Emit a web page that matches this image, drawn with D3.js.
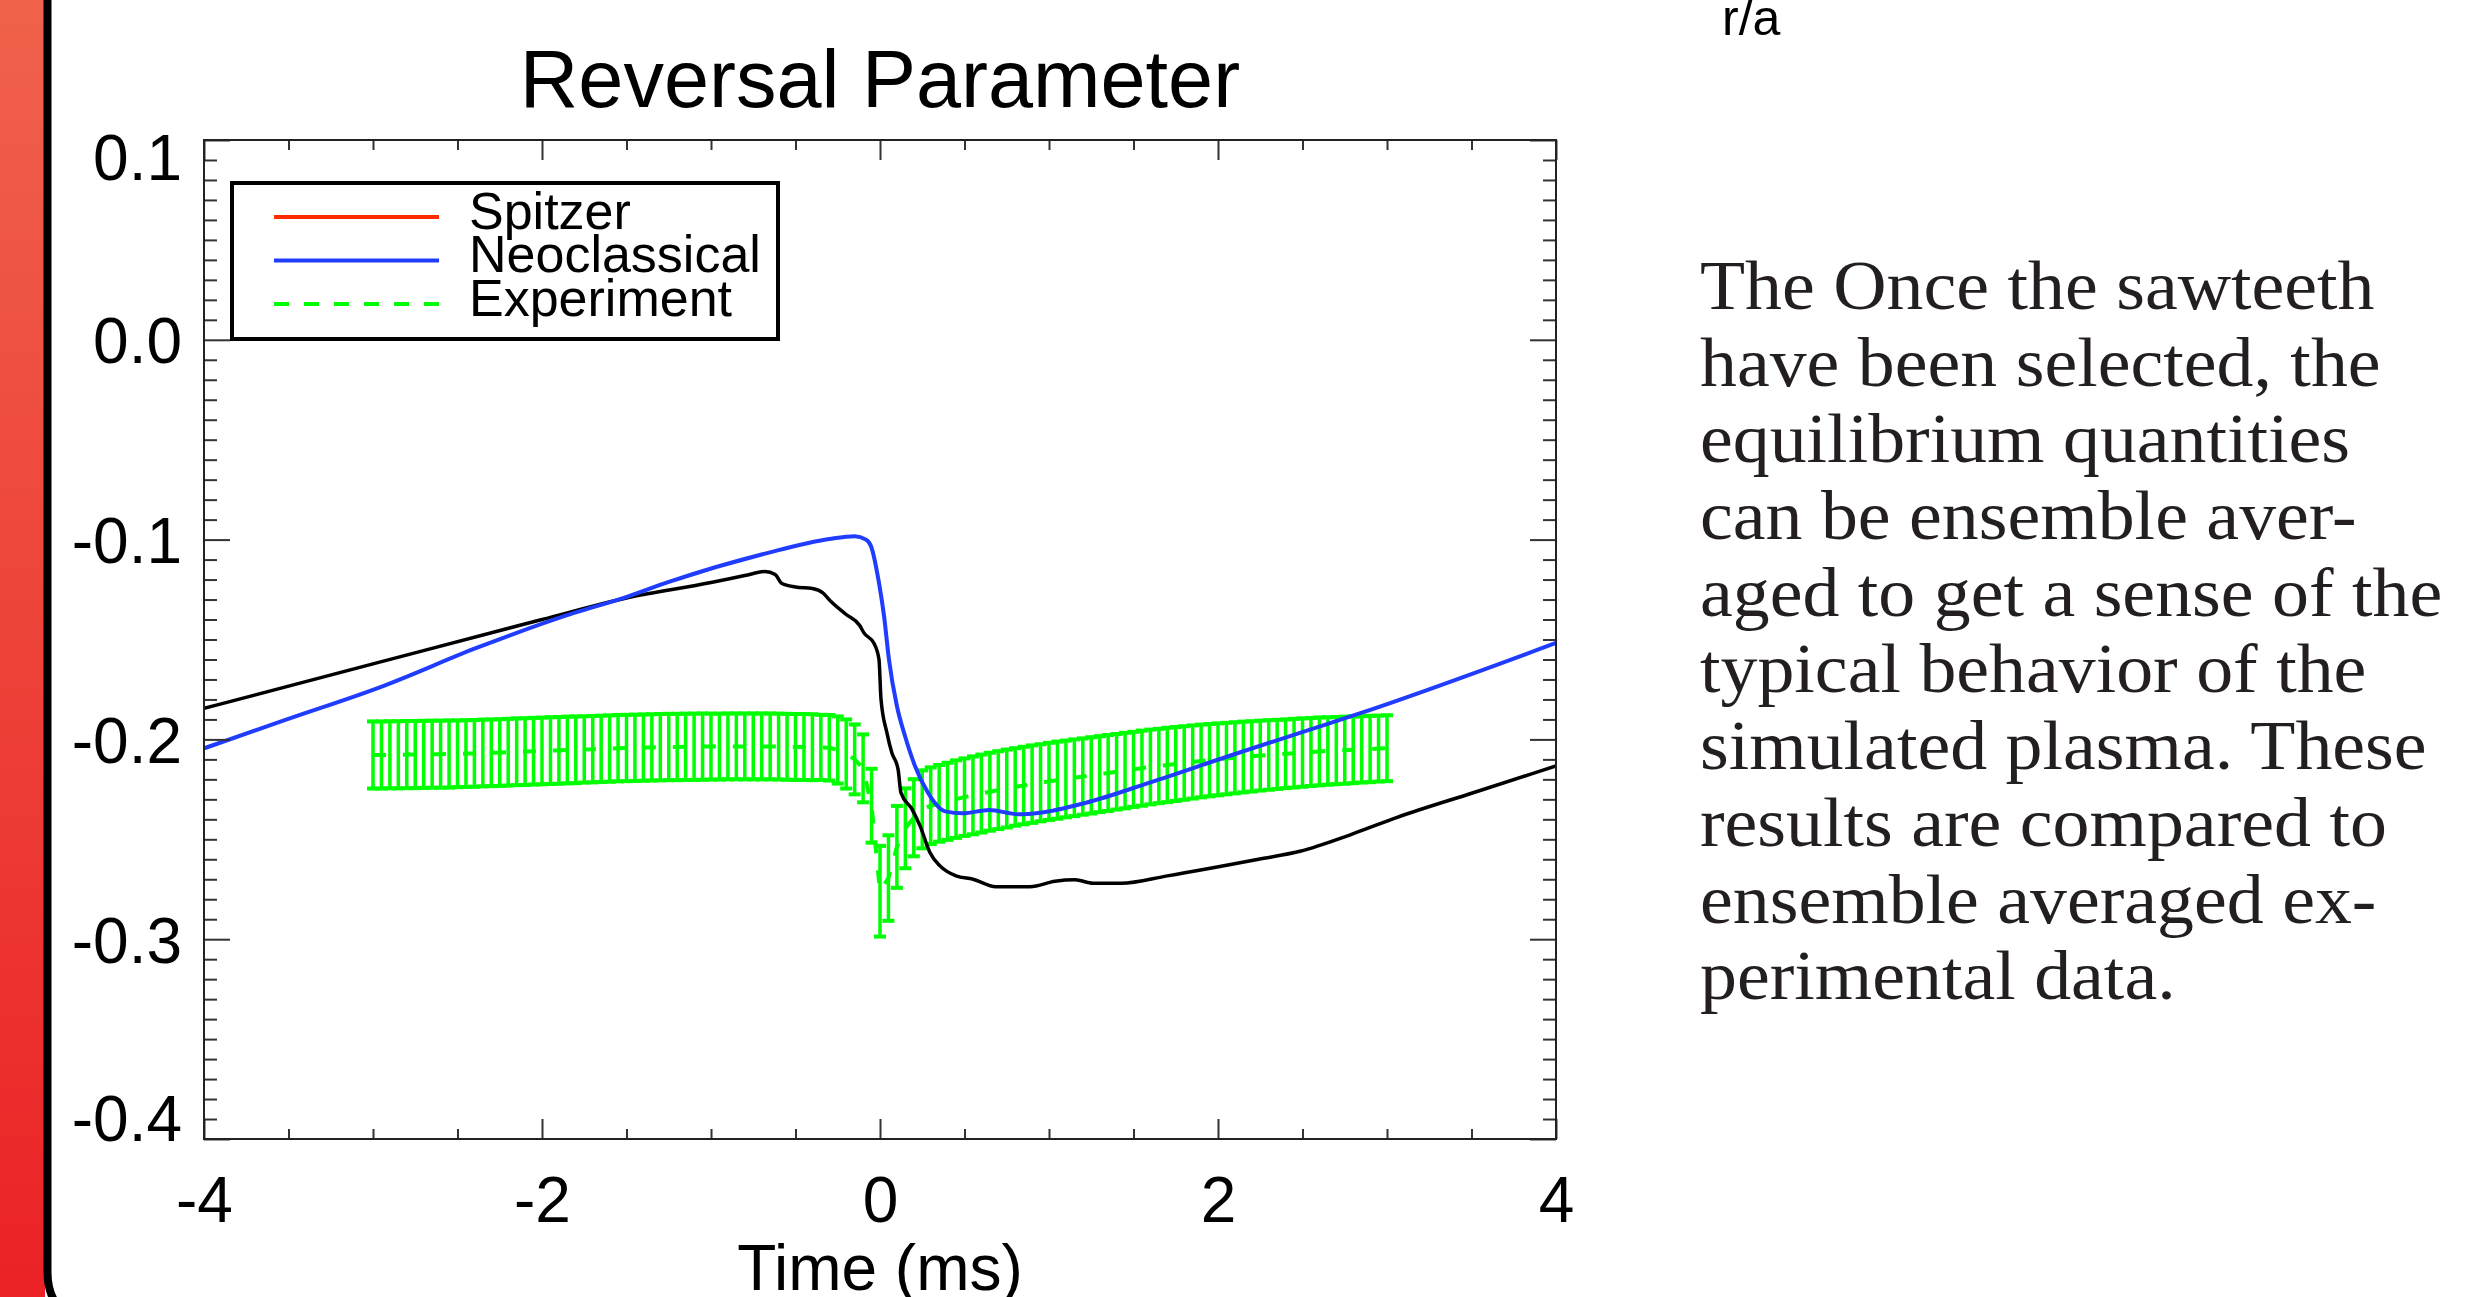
<!DOCTYPE html>
<html>
<head>
<meta charset="utf-8">
<script src="https://cdn.jsdelivr.net/npm/d3@7"></script>
<style>
  body { margin: 0; background: #fff; }
  svg { display: block; }
</style>
</head>
<body>
<div id="chart"></div>
<script>
// ---- data ----
const timeDomain = [-4, 4];
const valueDomain = [-0.4, 0.1];
const xMajorTicks = [-4, -2, 0, 2, 4];
const xMinorTicks = [-3.5, -3, -2.5, -1.5, -1, -0.5, 0.5, 1, 1.5, 2.5, 3, 3.5];
const yMajorTicks = [0.1, 0.0, -0.1, -0.2, -0.3, -0.4];
const legendLabels = ["Spitzer", "Neoclassical", "Experiment"];
const legendColors = ["#ff2a00", "#1f3cff", "#00ff00"];

// black curve (Spitzer run)
const spitzerT = [-4.00, -3.00, -2.00, -1.50, -1.00, -0.80, -0.68, -0.62, -0.58, -0.50, -0.40, -0.34, -0.29, -0.20, -0.12,
  -0.095, -0.035, -0.006, 0.006, 0.041, 0.07, 0.107, 0.124, 0.19, 0.237, 0.296, 0.355, 0.45, 0.55, 0.686, 0.888,
  1.036, 1.154, 1.26, 1.426, 1.70, 2.24, 2.485, 2.79, 3.06, 3.51, 4.00];
const spitzerV = [-0.1845, -0.1622, -0.1400, -0.1292, -0.1215, -0.1180, -0.1160, -0.1175, -0.1220, -0.1237, -0.1245, -0.1265, -0.1310, -0.1375, -0.1430,
  -0.1467, -0.1520, -0.1600, -0.1800, -0.1967, -0.2067, -0.2150, -0.2267, -0.2350, -0.2433, -0.2567, -0.2633, -0.2683, -0.2700, -0.2737, -0.2737,
  -0.2710, -0.2703, -0.2720, -0.2720, -0.2683, -0.2600, -0.2560, -0.2475, -0.2390, -0.2267, -0.2133];

// blue curve (Neoclassical run)
const neoT = [-4.00, -3.51, -2.94, -2.38, -1.81, -1.53, -1.245, -0.68, -0.30, -0.15, -0.083, -0.053, -0.006, 0.024, 0.053,
  0.10, 0.148, 0.207, 0.284, 0.385, 0.49, 0.645, 0.822, 0.947, 1.219, 1.60, 2.065, 2.485, 2.82, 4.00];
const neoV = [-0.2045, -0.1900, -0.1733, -0.1540, -0.1367, -0.1295, -0.1210, -0.1070, -0.0997, -0.0983, -0.1000, -0.1033, -0.1217, -0.1383, -0.1600,
  -0.1833, -0.1983, -0.2133, -0.2267, -0.2360, -0.2370, -0.2353, -0.2375, -0.2367, -0.2317, -0.2215, -0.2083, -0.1967, -0.1875, -0.1517];

// ensemble averaged experiment: time, mean, half error
const expT = [-3.00, -2.95, -2.90, -2.85, -2.80, -2.75, -2.70, -2.65, -2.60, -2.55,
  -2.50, -2.45, -2.40, -2.35, -2.30, -2.25, -2.20, -2.15, -2.10, -2.05,
  -2.00, -1.95, -1.90, -1.85, -1.80, -1.75, -1.70, -1.65, -1.60, -1.55,
  -1.50, -1.45, -1.40, -1.35, -1.30, -1.25, -1.20, -1.15, -1.10, -1.05,
  -1.00, -0.95, -0.90, -0.85, -0.80, -0.75, -0.70, -0.65, -0.60, -0.55,
  -0.50, -0.45, -0.40, -0.35, -0.30, -0.25, -0.20, -0.15, -0.10, -0.05,
  0.00, 0.05, 0.10, 0.15, 0.20, 0.25, 0.30, 0.35, 0.40, 0.45,
  0.50, 0.55, 0.60, 0.65, 0.70, 0.75, 0.80, 0.85, 0.90, 0.95,
  1.00, 1.05, 1.10, 1.15, 1.20, 1.25, 1.30, 1.35, 1.40, 1.45,
  1.50, 1.55, 1.60, 1.65, 1.70, 1.75, 1.80, 1.85, 1.90, 1.95,
  2.00, 2.05, 2.10, 2.15, 2.20, 2.25, 2.30, 2.35, 2.40, 2.45,
  2.50, 2.55, 2.60, 2.65, 2.70, 2.75, 2.80, 2.85, 2.90, 2.95,
  3.00];
const expMean = [-0.2078, -0.2078, -0.2077, -0.2077, -0.2076, -0.2076, -0.2075, -0.2074, -0.2074, -0.2073,
  -0.2072, -0.2071, -0.2070, -0.2068, -0.2067, -0.2066, -0.2064, -0.2062, -0.2061, -0.2059,
  -0.2058, -0.2056, -0.2055, -0.2053, -0.2052, -0.2050, -0.2049, -0.2047, -0.2046, -0.2044,
  -0.2043, -0.2042, -0.2041, -0.2040, -0.2039, -0.2038, -0.2038, -0.2037, -0.2037, -0.2036,
  -0.2036, -0.2036, -0.2035, -0.2035, -0.2035, -0.2035, -0.2035, -0.2035, -0.2036, -0.2037,
  -0.2038, -0.2038, -0.2039, -0.2040, -0.2042, -0.2053, -0.2073, -0.2100, -0.2145, -0.2332,
  -0.2760, -0.2694, -0.2538, -0.2445, -0.2392, -0.2350, -0.2332, -0.2320, -0.2310, -0.2299,
  -0.2289, -0.2280, -0.2271, -0.2262, -0.2254, -0.2246, -0.2238, -0.2231, -0.2224, -0.2217,
  -0.2210, -0.2204, -0.2198, -0.2192, -0.2186, -0.2180, -0.2174, -0.2168, -0.2162, -0.2156,
  -0.2150, -0.2144, -0.2138, -0.2133, -0.2128, -0.2123, -0.2118, -0.2113, -0.2108, -0.2104,
  -0.2100, -0.2096, -0.2092, -0.2088, -0.2085, -0.2081, -0.2078, -0.2075, -0.2072, -0.2069,
  -0.2066, -0.2063, -0.2060, -0.2058, -0.2056, -0.2054, -0.2052, -0.2050, -0.2048, -0.2046,
  -0.2044];
const expErr = [0.0168, 0.0168, 0.0168, 0.0168, 0.0168, 0.0168, 0.0168, 0.0168, 0.0168, 0.0168,
  0.0167, 0.0167, 0.0167, 0.0167, 0.0167, 0.0167, 0.0167, 0.0167, 0.0167, 0.0167,
  0.0167, 0.0167, 0.0167, 0.0167, 0.0167, 0.0166, 0.0166, 0.0166, 0.0166, 0.0166,
  0.0166, 0.0166, 0.0166, 0.0166, 0.0166, 0.0166, 0.0166, 0.0166, 0.0166, 0.0166,
  0.0165, 0.0165, 0.0165, 0.0165, 0.0165, 0.0165, 0.0165, 0.0165, 0.0165, 0.0165,
  0.0165, 0.0165, 0.0165, 0.0163, 0.0164, 0.0168, 0.0173, 0.0175, 0.0170, 0.0185,
  0.0227, 0.0214, 0.0205, 0.0200, 0.0193, 0.0195, 0.0192, 0.0192, 0.0193, 0.0194,
  0.0194, 0.0195, 0.0195, 0.0195, 0.0195, 0.0195, 0.0194, 0.0194, 0.0194, 0.0193,
  0.0193, 0.0193, 0.0192, 0.0192, 0.0191, 0.0191, 0.0190, 0.0190, 0.0189, 0.0189,
  0.0188, 0.0188, 0.0187, 0.0186, 0.0186, 0.0185, 0.0184, 0.0183, 0.0182, 0.0181,
  0.0180, 0.0179, 0.0178, 0.0177, 0.0176, 0.0175, 0.0174, 0.0173, 0.0172, 0.0172,
  0.0171, 0.0170, 0.0170, 0.0169, 0.0168, 0.0168, 0.0167, 0.0166, 0.0166, 0.0165,
  0.0165];

const titleText = "Reversal Parameter";
const xTitle = "Time (ms)";
const cornerLabel = "r/a";
const bodyLines = [
  "The Once the sawteeth",
  "have been selected, the",
  "equilibrium quantities",
  "can be ensemble aver-",
  "aged to get a sense of the",
  "typical behavior of the",
  "simulated plasma. These",
  "results are compared to",
  "ensemble averaged ex-",
  "perimental data."
];

// ---- layout ----
let layout = {
  width: 2480, height: 1297,
  left: 204, right: 1556, top: 140, bottom: 1139,
  sansFont: "'Liberation Sans', Arial, Helvetica, sans-serif",
  serifFont: "'Liberation Serif', 'Times New Roman', serif"
};

let svg = d3.select("#chart").append("svg")
  .attr("width", layout.width).attr("height", layout.height);

// slide decoration on the left
let defs = svg.append("defs");
let grad = defs.append("linearGradient").attr("id", "redBar")
  .attr("x1", 0).attr("y1", 0).attr("x2", 0).attr("y2", 1);
grad.append("stop").attr("offset", "0%").attr("stop-color", "#f0624b");
grad.append("stop").attr("offset", "100%").attr("stop-color", "#eb2226");
svg.append("rect").attr("x", 0).attr("y", 0).attr("width", 45).attr("height", layout.height)
  .attr("fill", "url(#redBar)");
svg.append("path").attr("d", "M47.5,0 L47.5,1272 Q47.5,1297 62,1310")
  .attr("fill", "none").attr("stroke", "#000").attr("stroke-width", 8);

defs.append("clipPath").attr("id", "plotClip").append("rect")
  .attr("x", layout.left).attr("y", layout.top)
  .attr("width", layout.right - layout.left).attr("height", layout.bottom - layout.top);

let x = d3.scaleLinear().domain(timeDomain).range([layout.left, layout.right]);
let y = d3.scaleLinear().domain(valueDomain).range([layout.bottom, layout.top]);

// title
svg.append("text").text(titleText)
  .attr("x", (layout.left + layout.right) / 2).attr("y", 107)
  .attr("text-anchor", "middle").attr("style", "font: 81px " + layout.sansFont).attr("fill", "#000");

// experiment error bars
let expG = svg.append("g").attr("clip-path", "url(#plotClip)");
let expData = expT.map((t, i) => ({ t: t, m: expMean[i], e: expErr[i] }));
let bars = expG.selectAll("g.bar").data(expData).enter().append("g").attr("class", "bar");
bars.append("line")
  .attr("x1", d => x(d.t)).attr("x2", d => x(d.t))
  .attr("y1", d => y(d.m + d.e)).attr("y2", d => y(d.m - d.e))
  .attr("stroke", "#00ff00").attr("stroke-width", 3.5);
bars.append("line")
  .attr("x1", d => x(d.t) - 6).attr("x2", d => x(d.t) + 6)
  .attr("y1", d => y(d.m + d.e)).attr("y2", d => y(d.m + d.e))
  .attr("stroke", "#00ff00").attr("stroke-width", 4);
bars.append("line")
  .attr("x1", d => x(d.t) - 6).attr("x2", d => x(d.t) + 6)
  .attr("y1", d => y(d.m - d.e)).attr("y2", d => y(d.m - d.e))
  .attr("stroke", "#00ff00").attr("stroke-width", 4);
expG.append("path").datum(expData)
  .attr("d", d3.line().x(d => x(d.t)).y(d => y(d.m)))
  .attr("fill", "none").attr("stroke", "#00ff00").attr("stroke-width", 4)
  .attr("stroke-dasharray", "13,17");

// model curves
let curveG = svg.append("g").attr("clip-path", "url(#plotClip)");
curveG.append("path").datum(spitzerT.map((t, i) => [t, spitzerV[i]]))
  .attr("d", d3.line().x(d => x(d[0])).y(d => y(d[1])).curve(d3.curveMonotoneX))
  .attr("fill", "none").attr("stroke", "#000").attr("stroke-width", 3.5)
  .attr("stroke-linejoin", "round");
curveG.append("path").datum(neoT.map((t, i) => [t, neoV[i]]))
  .attr("d", d3.line().x(d => x(d[0])).y(d => y(d[1])).curve(d3.curveMonotoneX))
  .attr("fill", "none").attr("stroke", "#1f3cff").attr("stroke-width", 4)
  .attr("stroke-linejoin", "round");

// axes (IDL style: ticks pointing inward on all four sides)
let tickColor = "#333";
function styleAxis(g) {
  g.select(".domain").remove();
  g.selectAll(".tick line").attr("stroke", tickColor).attr("stroke-width", 2);
  g.selectAll(".tick text").attr("fill", "#000").attr("style", "font: 64px " + layout.sansFont);
}
let yMinorTicks = y.ticks(50).filter(v => Math.abs(Math.round(v * 10) - v * 10) > 1e-6);
let fmtY = d => (Math.abs(d) < 1e-9 ? 0 : d).toFixed(1);

let xAxisBottom = svg.append("g").attr("transform", "translate(0," + layout.bottom + ")")
  .call(d3.axisBottom(x).tickValues(xMajorTicks).tickSize(-20).tickFormat(d => String(d)));
styleAxis(xAxisBottom);
xAxisBottom.selectAll(".tick text").attr("y", 83).attr("dy", 0);
svg.append("g").attr("transform", "translate(0," + layout.bottom + ")")
  .call(d3.axisBottom(x).tickValues(xMinorTicks).tickSize(-10).tickFormat("")).call(styleAxis);
svg.append("g").attr("transform", "translate(0," + layout.top + ")")
  .call(d3.axisTop(x).tickValues(xMajorTicks).tickSize(-20).tickFormat("")).call(styleAxis);
svg.append("g").attr("transform", "translate(0," + layout.top + ")")
  .call(d3.axisTop(x).tickValues(xMinorTicks).tickSize(-10).tickFormat("")).call(styleAxis);

let yAxisLeft = svg.append("g").attr("transform", "translate(" + layout.left + ",0)")
  .call(d3.axisLeft(y).tickValues(yMajorTicks).tickSize(-26).tickPadding(22).tickFormat(fmtY));
styleAxis(yAxisLeft);
yAxisLeft.selectAll(".tick text").attr("dy", (d, i) => i === 0 ? "0.62em" : (i === yMajorTicks.length - 1 ? "0.02em" : "0.36em"));
svg.append("g").attr("transform", "translate(" + layout.left + ",0)")
  .call(d3.axisLeft(y).tickValues(yMinorTicks).tickSize(-13).tickFormat("")).call(styleAxis);
svg.append("g").attr("transform", "translate(" + layout.right + ",0)")
  .call(d3.axisRight(y).tickValues(yMajorTicks).tickSize(-26).tickFormat("")).call(styleAxis);
svg.append("g").attr("transform", "translate(" + layout.right + ",0)")
  .call(d3.axisRight(y).tickValues(yMinorTicks).tickSize(-13).tickFormat("")).call(styleAxis);

// frame
svg.append("rect").attr("x", layout.left).attr("y", layout.top)
  .attr("width", layout.right - layout.left).attr("height", layout.bottom - layout.top)
  .attr("fill", "none").attr("stroke", "#222").attr("stroke-width", 2);

svg.append("text").text(xTitle)
  .attr("x", (layout.left + layout.right) / 2).attr("y", 1290)
  .attr("text-anchor", "middle").attr("style", "font: 64px " + layout.sansFont).attr("fill", "#000");

// legend
let legend = svg.append("g");
legend.append("rect").attr("x", 232).attr("y", 183).attr("width", 546).attr("height", 156)
  .attr("fill", "#fff").attr("stroke", "#000").attr("stroke-width", 4);
legendLabels.forEach((label, i) => {
  let ly = 217 + i * 43.5;
  legend.append("line").attr("x1", 274).attr("x2", 439).attr("y1", ly).attr("y2", ly)
    .attr("stroke", legendColors[i]).attr("stroke-width", 4)
    .attr("stroke-dasharray", i === 2 ? "15,15" : null);
  legend.append("text").text(label).attr("x", 469).attr("y", ly + 11.5)
    .attr("style", "font: 52px " + layout.sansFont).attr("fill", "#000");
});

// corner label left over from the plot above
svg.append("text").text(cornerLabel).attr("x", 1722).attr("y", 35)
  .attr("style", "font: 50px " + layout.sansFont).attr("fill", "#000");

// body text on the right
let body = svg.append("g").attr("transform", "translate(1700,0) scale(1.055,1)");
bodyLines.forEach((line, i) => {
  body.append("text").text(line).attr("x", 0).attr("y", 309 + i * 76.7)
    .attr("style", "font: 70px " + layout.serifFont).attr("fill", "#231f20");
});
</script>
</body>
</html>
